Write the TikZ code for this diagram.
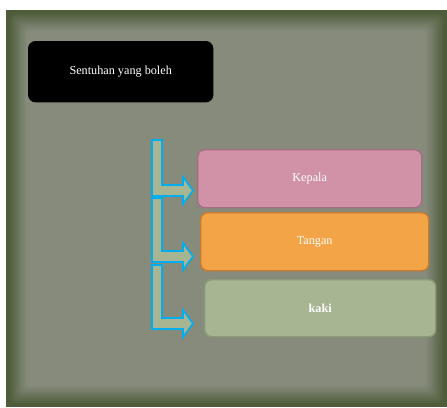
\documentclass[tikz,border=0pt]{standalone}
\usepackage{fontspec}
\setmainfont{Liberation Serif}
\begin{document}
\begin{tikzpicture}[x=1pt,y=-1pt,
  box/.style={draw, line width=1.4pt, rounded corners=7pt, inner sep=0pt, anchor=north west, text=white, font=\fontsize{12.2}{14}\selectfont},
  bent/.style={draw=arrowline, line width=1.6pt, fill=arrowfill, line join=miter}
]
\definecolor{frameDark}{HTML}{4E5C3A}
\definecolor{bgA}{HTML}{868B7B}
\definecolor{arrowfill}{HTML}{A7B592}
\definecolor{arrowline}{HTML}{00AEEF}
\definecolor{kepalaF}{HTML}{D191A6}
\definecolor{kepalaD}{HTML}{A36D82}
\definecolor{tanganF}{HTML}{F2A446}
\definecolor{tanganD}{HTML}{C87A2E}
\definecolor{kakiF}{HTML}{A7B592}
\definecolor{kakiD}{HTML}{8A9A76}
\useasboundingbox (0,0) rectangle (447,407);
\fill[white] (0,0) rectangle (447,407);
% textured frame approximation (soft edge)
\fill[frameDark] (6,10) rectangle (447,407);
\foreach \i in {0,...,16}{
  \pgfmathsetmacro{\p}{95-\i*6}
  \pgfmathsetmacro{\d}{3+\i*1.1}
  \fill[frameDark!\p!bgA, rounded corners=5pt] (6+\d,10+\d) rectangle (447-\d,407-\d);
}
% title box
\node[box, draw=black, fill=black, minimum width=184pt, minimum height=60pt] (title) at (28,41) {Sentuhan yang boleh};
% category boxes
\node[box, draw=kepalaD, fill=kepalaF, minimum width=224pt, minimum height=58pt] (kepala) at (197,149) {Kepala};
\node[box, draw=tanganD, fill=tanganF, minimum width=228pt, minimum height=58pt] (tangan) at (200,212) {Tangan};
\node[box, draw=kakiD, fill=kakiF, minimum width=231pt, minimum height=57pt, font=\fontsize{12.2}{14}\selectfont\bfseries] (kaki) at (204,279) {kaki};
% bent arrows
\foreach \t/\c in {140/190.5, 198/256.5, 265/323.5}{
  \draw[bent] (152,\t) -- (162,\t) -- (162,\c-5.5) -- (183,\c-5.5) -- (183,\c-13.5)
    -- (193,\c) -- (183,\c+13.5) -- (183,\c+5.5) -- (152,\c+5.5) -- cycle;
}
\end{tikzpicture}
\end{document}
